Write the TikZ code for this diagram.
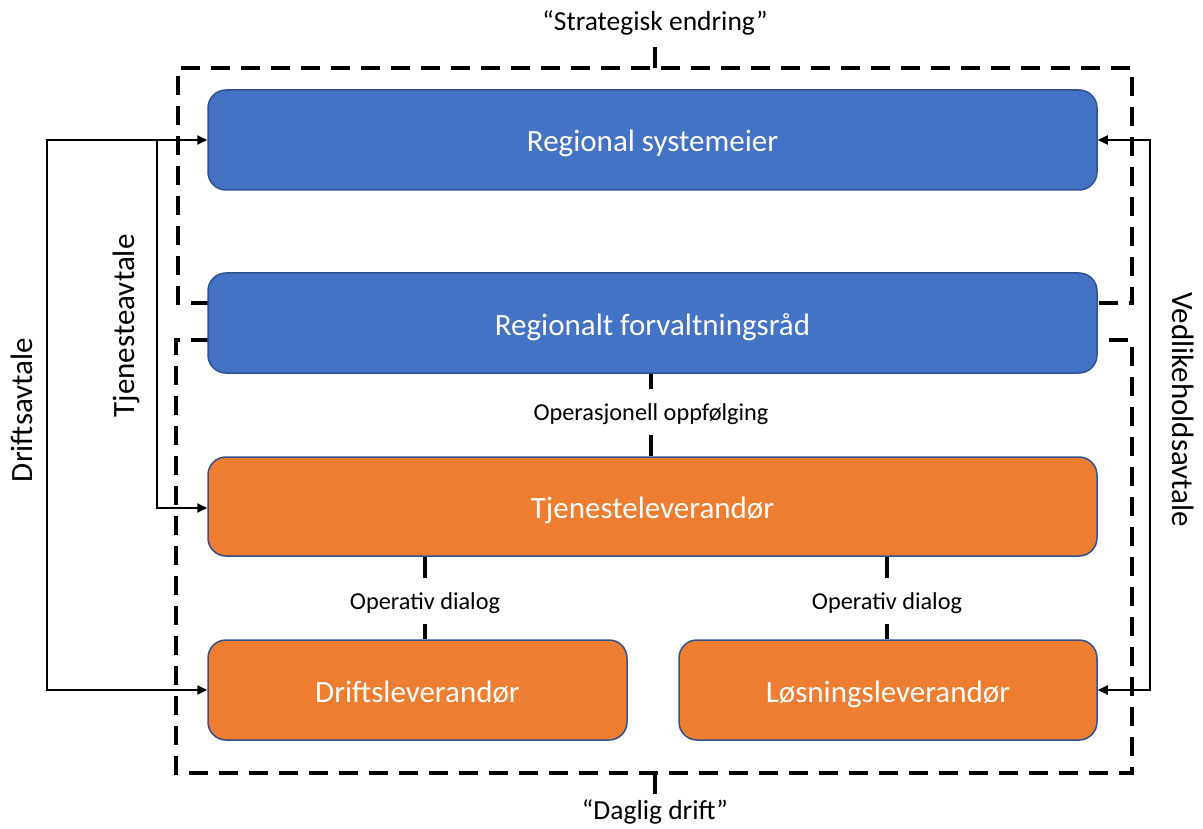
\documentclass[tikz,border=0pt]{standalone}
\usepackage{fontspec}
\setmainfont{Carlito}
\usetikzlibrary{arrows.meta}
\definecolor{boxblue}{HTML}{4472C4}
\definecolor{boxorange}{HTML}{ED7D31}
\definecolor{edgeblue}{HTML}{2F528F}
\begin{document}
\begin{tikzpicture}[x=1pt,y=-1pt,
  boxbase/.style={draw=edgeblue,line width=1.5pt,rounded corners=18pt,text=white,
    font=\fontsize{31}{37}\selectfont,inner sep=0pt,text height=24pt,text depth=0pt},
  bluebox/.style={boxbase,fill=boxblue},
  orangebox/.style={boxbase,fill=boxorange},
  bracket/.style={line width=4.5pt,dash pattern=on 19pt off 11pt},
  tick/.style={line width=4.5pt},
  linkconn/.style={line width=4.5pt},
  linklabel/.style={fill=white,font=\fontsize{24.3}{28}\selectfont,inner sep=0pt,
    text height=16pt,text depth=0pt,minimum height=46pt},
  arr/.style={line width=2pt,{Triangle[length=10pt,width=9pt]}-{Triangle[length=10pt,width=9pt]}},
  arrone/.style={line width=2pt,-{Triangle[length=10pt,width=9pt]}},
  sidelabel/.style={font=\fontsize{31}{37}\selectfont},
  toplabel/.style={font=\fontsize{27.5}{32}\selectfont,anchor=base}
]
\useasboundingbox (0,0) rectangle (1203,829);

% dashed brackets
\draw[bracket] (210,303) -- (178,303) -- (178,68) -- (1132,68) -- (1132,303) -- (1095,303);
\draw[bracket] (210,340) -- (176,340) -- (176,773) -- (1132,773) -- (1132,340) -- (1095,340);
\coordinate (ttop) at (655,68);
\coordinate (ttopend) at (655,47);
\coordinate (tbot) at (655,773);
\coordinate (tbotend) at (655,794);
\draw[tick] (ttop) -- (ttopend);
\draw[tick] (tbot) -- (tbotend);

\node[toplabel] (strat) at (655,31) {“Strategisk endring”};
\node[toplabel] (daglig) at (655,819) {“Daglig drift”};

% boxes
\node[bluebox,minimum width=889pt,minimum height=100pt] (rs) at (652.5,140) {Regional systemeier};
\node[bluebox,minimum width=889pt,minimum height=100pt] (rf) at (652.5,323) {Regionalt forvaltningsråd};
\node[orangebox,minimum width=889pt,minimum height=99pt] (tl) at (652.5,506.5) {Tjenesteleverandør};
\node[orangebox,minimum width=419pt,minimum height=100pt] (dl) at (417.5,690) {Driftsleverandør};
\node[orangebox,minimum width=418pt,minimum height=100pt] (ll) at (888,690) {Løsningsleverandør};

% dashed links with labels
\draw[linkconn] (rf.south -| 651,0) -- node[linklabel,yshift=3pt]{Operasjonell oppfølging} (tl.north -| 651,0);
\draw[linkconn] (tl.south -| 425,0) -- node[linklabel,yshift=-3pt]{Operativ dialog} (dl.north -| 425,0);
\draw[linkconn] (tl.south -| 887,0) -- node[linklabel,yshift=-3pt]{Operativ dialog} (ll.north -| 887,0);

% agreement arrows
\coordinate (d1) at (47,140);
\coordinate (d2) at (47,690);
\draw[arr] (rs.west) -- (d1) -- (d2) -- (dl.west);
\coordinate (t1) at (157,140);
\coordinate (t2) at (157,508);
\draw[arrone] (t1) -- (t2) -- (t2 -| tl.west);
\coordinate (v1) at (1150,140);
\coordinate (v2) at (1150,690);
\draw[arr] (rs.east) -- (v1) -- (v2) -- (ll.east);

\node[sidelabel,rotate=90] (dlab) at (22,410) {Driftsavtale};
\node[sidelabel,rotate=90] (tlab) at (126,326) {Tjenesteavtale};
\node[sidelabel,rotate=-90] (vlab) at (1183,410) {Vedlikeholdsavtale};
\end{tikzpicture}
\end{document}
